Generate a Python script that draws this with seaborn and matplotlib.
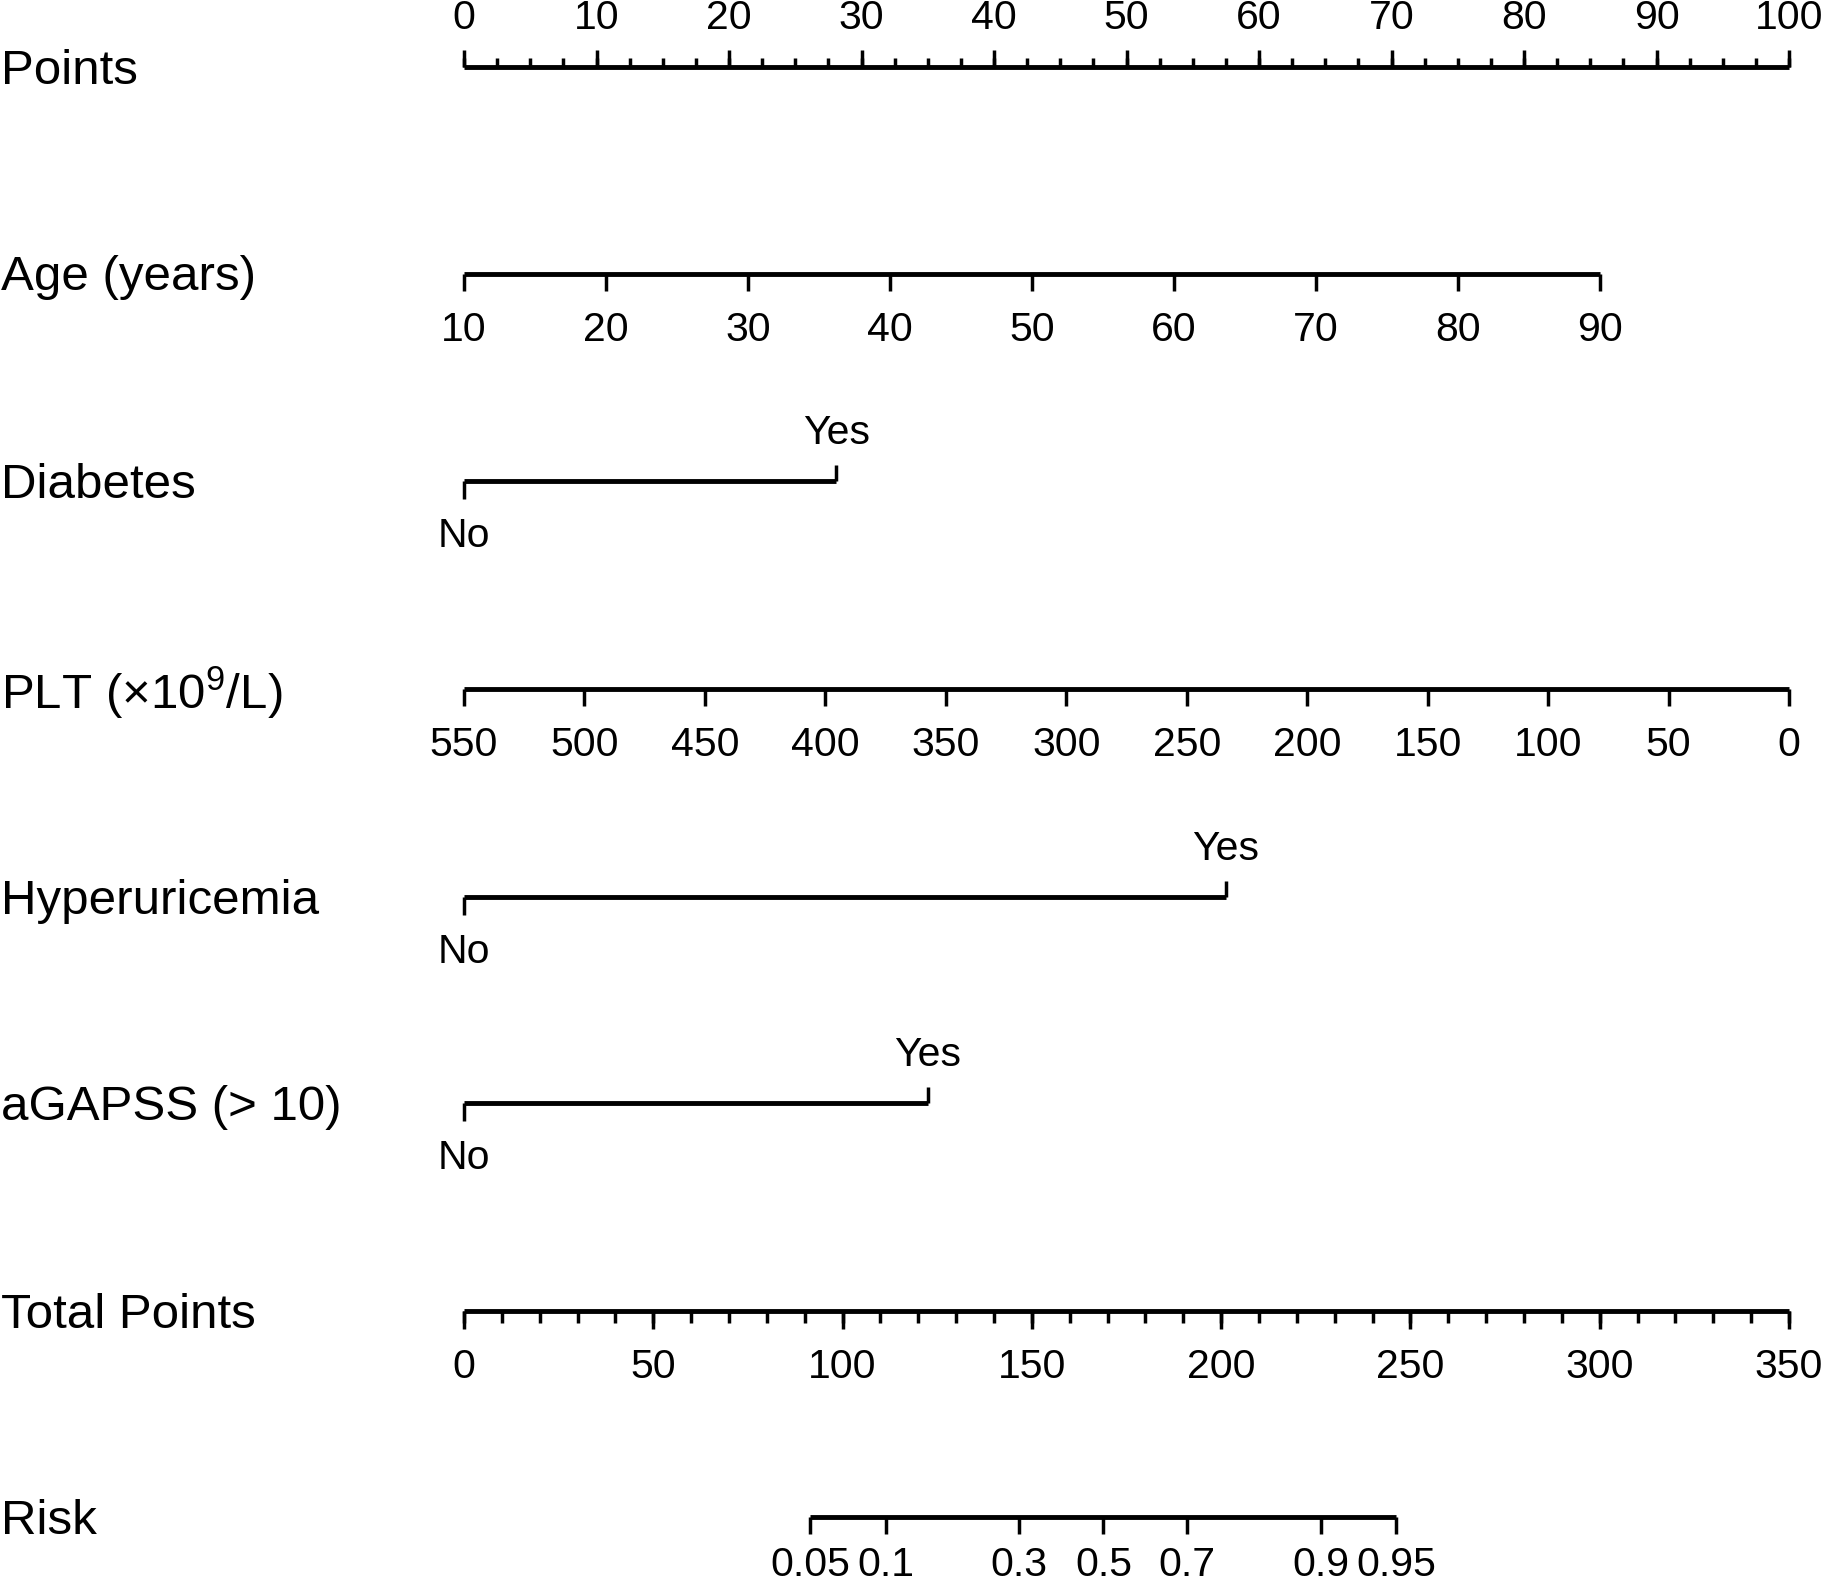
import numpy as np
import pandas as pd
import matplotlib
matplotlib.use('Agg')
import matplotlib.pyplot as plt
import seaborn as sns

# nomogram data
points_ticks = [0, 10, 20, 30, 40, 50, 60, 70, 80, 90, 100]
points_minor = np.arange(0, 100.1, 2.5)

age_values = [10, 20, 30, 40, 50, 60, 70, 80, 90]
age_max_points = 85.7          # points given to age 90

diabetes_levels = ['No', 'Yes']
diabetes_points = [0, 28.1]

plt_values = [550, 500, 450, 400, 350, 300, 250, 200, 150, 100, 50, 0]

hyperuricemia_levels = ['No', 'Yes']
hyperuricemia_points = [0, 57.5]

agapss_levels = ['No', 'Yes']
agapss_points = [0, 35.0]

total_ticks = [0, 50, 100, 150, 200, 250, 300, 350]
total_minor = np.arange(0, 351, 10)
total_max = 350

risk_labels = ['0.05', '0.1', '0.3', '0.5', '0.7', '0.9', '0.95']
risk_total_points = [91.4, 111.4, 146.7, 168.9, 190.9, 226.3, 246.2]

row_names = ['Points', 'Age (years)', 'Diabetes', 'PLT (×10$^{9}$/L)',
             'Hyperuricemia', 'aGAPSS (> 10)', 'Total Points', 'Risk']
row_y = [67, 274, 481, 689, 897, 1103, 1311, 1517]

sns.set_theme(style='white')
plt.rcParams['font.family'] = ['Liberation Sans', 'DejaVu Sans']
plt.rcParams['text.color'] = 'black'
plt.rcParams['mathtext.fontset'] = 'custom'
plt.rcParams['mathtext.rm'] = 'Liberation Sans'

fig = plt.figure(figsize=(18.22, 15.85), dpi=100)
ax = fig.add_axes([0, 0, 1, 1])
# x axis in "points" units, y axis in pixels from top
ax.set_xlim(-464 / 13.25, (1822 - 464) / 13.25)
ax.set_ylim(1585, 0)
ax.axis('off')

LW = 3.5
TW = 2.5
LAB = 35.5
TICK = 29.5
K = 'black'


def axis_line(x0, x1, y):
    ax.plot([x0, x1], [y, y], color=K, lw=LW, solid_capstyle='butt')


def ticks(xs, y, length, up=False):
    for x in xs:
        ax.plot([x, x], [y, y - length if up else y + length], color=K, lw=TW,
                solid_capstyle='butt')


def tlabels(xs, labels, y, above=False, gap=56):
    for x, s in zip(xs, labels):
        ax.text(x, y - 49 if above else y + gap, s, ha='center', va='center',
                fontsize=TICK, color=K)


# row names
for name, y in zip(row_names, row_y):
    ax.text(-464 / 13.25 + 0.1, y + 4, name, ha='left', va='center',
            fontsize=LAB, color=K)

# Points
y = row_y[0]
axis_line(0, 100, y)
ticks(points_minor, y, 9, up=True)
ticks(points_ticks, y, 17, up=True)
tlabels(points_ticks, [str(v) for v in points_ticks], y, above=True)

# Age
y = row_y[1]
age_pts = [(a - age_values[0]) / (age_values[-1] - age_values[0]) * age_max_points
           for a in age_values]
axis_line(age_pts[0], age_pts[-1], y)
ticks(age_pts, y, 17)
tlabels(age_pts, [str(v) for v in age_values], y)


def binary_row(levels, pts, y):
    axis_line(pts[0], pts[1], y)
    ticks([pts[0]], y, 18)
    ticks([pts[1]], y, 16, up=True)
    ax.text(pts[0], y + 55, levels[0], ha='center', va='center', fontsize=TICK, color=K)
    ax.text(pts[1], y - 48, levels[1], ha='center', va='center', fontsize=TICK, color=K)


binary_row(diabetes_levels, diabetes_points, row_y[2])

# PLT
y = row_y[3]
plt_pts = [(plt_values[0] - v) / plt_values[0] * 100 for v in plt_values]
axis_line(plt_pts[0], plt_pts[-1], y)
ticks(plt_pts, y, 17)
tlabels(plt_pts, [str(v) for v in plt_values], y)

binary_row(hyperuricemia_levels, hyperuricemia_points, row_y[4])
binary_row(agapss_levels, agapss_points, row_y[5])

# Total Points
y = row_y[6]
axis_line(0, 100, y)
ticks(total_minor * 100 / total_max, y, 12)
ticks(np.array(total_ticks) * 100 / total_max, y, 18)
tlabels(np.array(total_ticks) * 100 / total_max, [str(v) for v in total_ticks], y)

# Risk
y = row_y[7]
risk_pts = np.array(risk_total_points) * 100 / total_max
axis_line(risk_pts[0], risk_pts[-1], y)
ticks(risk_pts, y, 17)
tlabels(risk_pts, risk_labels, y, gap=48)

fig.savefig('out.png', dpi=100)
